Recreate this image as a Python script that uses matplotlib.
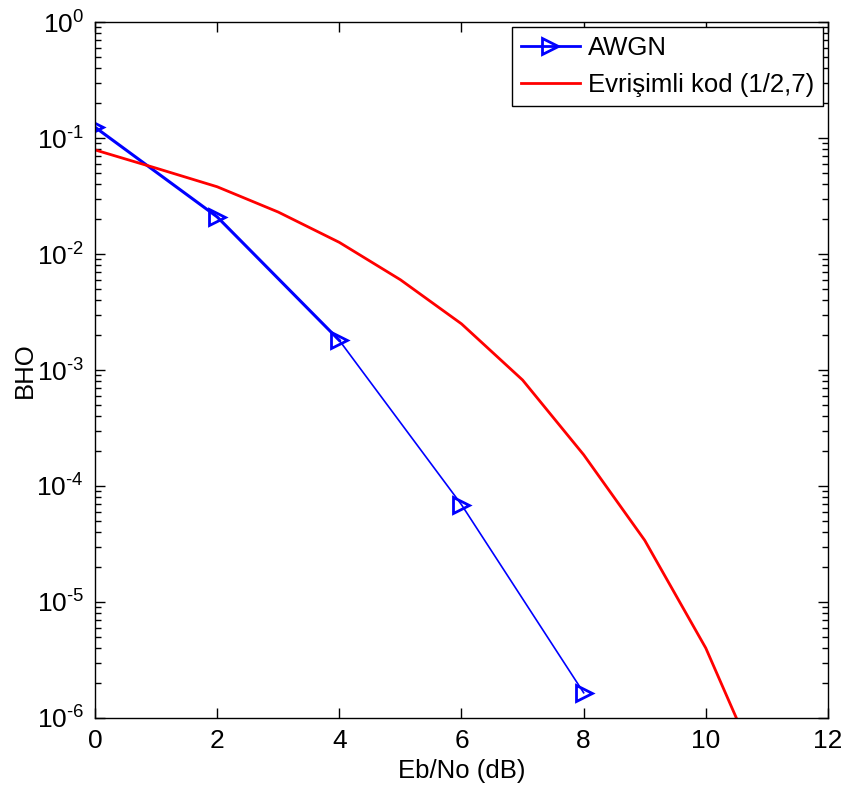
import matplotlib
matplotlib.use("Agg")
import numpy as np
import matplotlib.pyplot as plt
from matplotlib.lines import Line2D
from matplotlib.ticker import FuncFormatter

plt.rcParams['font.family'] = ['Liberation Sans', 'DejaVu Sans']
plt.rcParams['mathtext.fontset'] = 'custom'
plt.rcParams['mathtext.rm'] = 'Liberation Sans'
plt.rcParams['mathtext.it'] = 'Liberation Sans:italic'

# AWGN (simulated points)
awgn_ebno = [0, 2, 4, 6, 8]
awgn_ber = [0.124, 0.0209, 0.0018, 6.9e-5, 1.65e-6]

# convolutional code (1/2,7)
conv_ebno = [0, 1, 2, 3, 4, 5, 6, 7, 8, 9, 10, 10.5, 11]
conv_ber = [0.079, 0.055, 0.038, 0.023, 0.0126, 0.006, 0.0025, 8.2e-4,
            1.86e-4, 3.4e-5, 4.0e-6, 1.0e-6, 1.5e-7]

fig = plt.figure(figsize=(8.46, 7.87), dpi=100)
ax = fig.add_axes([0.1123, 0.0877, 0.8664, 0.8843])

# thicker first segments, thinner tail (as in original render)
ax.semilogy(awgn_ebno[:3], awgn_ber[:3], color='blue', lw=2.2)
ax.semilogy(awgn_ebno[2:], awgn_ber[2:], color='blue', lw=1.2)
ax.semilogy(awgn_ebno, awgn_ber, ls='none', marker='>', ms=11,
            mfc='none', mec='blue', mew=2)
ax.semilogy(conv_ebno, conv_ber, color='red', lw=2)

ax.set_xlim(0, 12)
ax.set_ylim(1e-6, 1)
ax.set_xticks([0, 2, 4, 6, 8, 10, 12])


def decade(v, pos):
    e = int(round(np.log10(v)))
    if e < 0:
        return r'$\mathdefault{10^{\text{-}%d}}$' % (-e)
    return r'$\mathdefault{10^{%d}}$' % e


ax.yaxis.set_major_formatter(FuncFormatter(decade))
ax.set_xlabel('Eb/No (dB)', fontsize=18.5, labelpad=4)
ax.set_ylabel('BHO', fontsize=18.5, labelpad=0)
ax.tick_params(which='both', direction='in', top=True, right=True,
               labelsize=19, width=1)
ax.tick_params(which='major', length=7, pad=8)
ax.tick_params(which='minor', length=4)
for s in ax.spines.values():
    s.set_linewidth(1)

handles = [Line2D([0, 0.5, 1], [0, 0, 0], color='blue', lw=2, marker='>',
                  ms=11, mfc='none', mec='blue', mew=2, markevery=[1]),
           Line2D([], [], color='red', lw=2)]
leg = ax.legend(handles, ['AWGN', 'Evrişimli kod (1/2,7)'], loc='upper right',
                fontsize=18.5, fancybox=False, framealpha=1, edgecolor='black',
                borderaxespad=0.2, handlelength=2.3, handletextpad=0.3,
                borderpad=0.35, labelspacing=0.5)
leg.get_frame().set_linewidth(1)

fig.savefig('out.png', dpi=100)
